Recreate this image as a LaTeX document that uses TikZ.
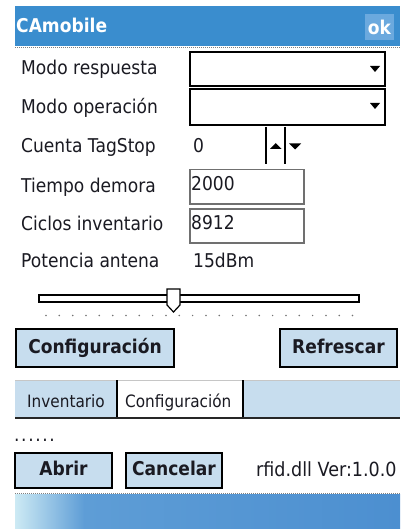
\documentclass[tikz,border=0pt]{standalone}
\usepackage{fontspec}
\setmainfont{DejaVu Sans}[FakeStretch=0.9]
\definecolor{titleblue}{HTML}{3A8DCE}
\definecolor{okblue}{HTML}{6BA9DE}
\definecolor{btnfill}{HTML}{C7DDEE}
\definecolor{txt}{HTML}{1A1A22}
\definecolor{boxgray}{HTML}{707070}
\definecolor{gradlight}{HTML}{CDEAF4}
\definecolor{gradblue}{HTML}{5E9DD6}
\definecolor{gradblueb}{HTML}{4C8FD0}
\pgfdeclarehorizontalshading{bottomshade}{100bp}{color(0bp)=(gradlight); color(25bp)=(gradlight); color(34bp)=(gradblue); color(75bp)=(gradblueb); color(100bp)=(gradblueb)}
\begin{document}
\begin{tikzpicture}[x=1pt,y=-1pt,
  lbl/.style={anchor=base west, inner sep=0pt, text=txt, font=\fontsize{19}{22}\selectfont},
  btntext/.style={anchor=base, inner sep=0pt, text=txt, font=\fontsize{19}{22}\selectfont\bfseries},
  btn/.style={draw=black, line width=1.5pt, fill=btnfill, inner sep=0pt},
  combo/.style={draw=black, line width=1.8pt, fill=white, inner sep=0pt, anchor=north west},
  tbox/.style={draw=boxgray, line width=1.5pt, fill=white, inner sep=0pt, anchor=north west},
  tablbl/.style={anchor=base west, inner sep=0pt, text=txt, font=\fontsize{17}{20}\selectfont},
  dotline/.style={draw=gray, dash pattern=on 1pt off 1pt, line width=1pt},
]
\useasboundingbox (0,0) rectangle (402,529);
\fill[white] (0,0) rectangle (402,529);
% title bar
\fill[titleblue] (15,6) rectangle (400,46);
\node[anchor=base west, inner sep=0pt, text=white, font=\fontsize{19}{22}\selectfont\bfseries] (title) at (16,33) {CAmobile};
\node[fill=okblue, minimum width=29pt, minimum height=26pt, inner sep=0pt] (okbox) at (379.5,27) {};
\node[anchor=base, inner sep=0pt, text=white, font=\fontsize{19}{22}\selectfont\bfseries] (oktext) at (379.5,35) {ok};
\draw[dotline] (15,47.5) -- (400,47.5);
% combos
\node[combo, minimum width=195pt, minimum height=34pt] (cb1) at (189,51) {};
\node[combo, minimum width=195pt, minimum height=36pt] (cb2) at (189,88) {};
\fill[black] (370,66) -- (380,66) -- (375,72) -- cycle;
\fill[black] (370,103) -- (380,103) -- (375,109) -- cycle;
% labels
\node[lbl] (l1) at (21,75) {Modo respuesta};
\node[lbl] (l2) at (21,114) {Modo operación};
\node[lbl] (l3) at (21,153) {Cuenta TagStop};
\node[lbl] (l4) at (21,193) {Tiempo demora};
\node[lbl] (l5) at (21,230) {Ciclos inventario};
\node[lbl] (l6) at (21,267) {Potencia antena};
% spinner
\node[lbl] (v3) at (193,153) {0};
\draw[line width=1.8pt] (266,127) -- (266,164);
\draw[line width=1.8pt] (285,127) -- (285,164);
\fill[black] (270,149) -- (281.5,149) -- (275.75,143) -- cycle;
\fill[black] (289,143.5) -- (301,143.5) -- (295,149.5) -- cycle;
% text boxes
\node[tbox, minimum width=114pt, minimum height=34pt] (tb1) at (189,169) {};
\node[lbl] (v4) at (191,190) {2000};
\node[tbox, minimum width=114pt, minimum height=34pt] (tb2) at (189,208) {};
\node[lbl] (v5) at (191,229) {8912};
\node[lbl] (v6) at (193,267) {15dBm};
% slider
\draw[line width=1.2pt, fill=white] (39,295) rectangle (359,302);
\draw[line width=1.2pt, fill=white] (167,289) -- (180,289) -- (180,305) -- (173.5,312) -- (167,305) -- cycle;
\foreach \i in {0,...,23} \fill[black!55] ({46+\i*13.33},315.5) circle (0.85pt);
% buttons
\node[btn, minimum width=158pt, minimum height=38pt] (bconf) at (95,348) {};
\node[btntext] (tconf) at ([yshift=-5pt]bconf.center) {Configuración};
\node[btn, minimum width=117pt, minimum height=38pt] (bref) at (338.5,348) {};
\node[btntext] (tref) at ([yshift=-5pt]bref.center) {Refrescar};
% tabs
\fill[btnfill] (15,380) rectangle (400,418);
\fill[white] (117,380) rectangle (243,418);
\draw[gray!45, line width=0.8pt] (15,380) -- (400,380);
\draw[black, line width=1.3pt] (117,380) -- (117,418);
\draw[black, line width=1.3pt] (243,380) -- (243,418);
\draw[black!85, line width=1.5pt] (15,418) -- (400,418);
\node[tablbl] (tab1) at (27,407) {Inventario};
\node[tablbl] (tab2) at (125,407) {Configuración};
% dots
\node[lbl] (dots) at (14,441.5) {.\kern1.6pt.\kern1.6pt.\kern1.6pt.\kern1.6pt.\kern1.6pt.};
% bottom buttons
\node[btn, minimum width=97pt, minimum height=35pt] (babrir) at (63.5,470.5) {};
\node[btntext] (tabrir) at ([yshift=-4.5pt]babrir.center) {Abrir};
\node[btn, minimum width=96pt, minimum height=35pt] (bcanc) at (174,470.5) {};
\node[btntext] (tcanc) at ([yshift=-4.5pt]bcanc.center) {Cancelar};
\begin{scope}
\clip (15,450) rectangle (400,492);
\node[lbl, font=\fontsize{19.5}{22}\selectfont] (ver) at (256,476) {rfid.dll Ver:1.0.0};
\end{scope}
% bottom bar
\draw[dotline] (15,493.5) -- (400,493.5);
\shade[shading=bottomshade] (15,494.5) rectangle (400,529);
\end{tikzpicture}
\end{document}
